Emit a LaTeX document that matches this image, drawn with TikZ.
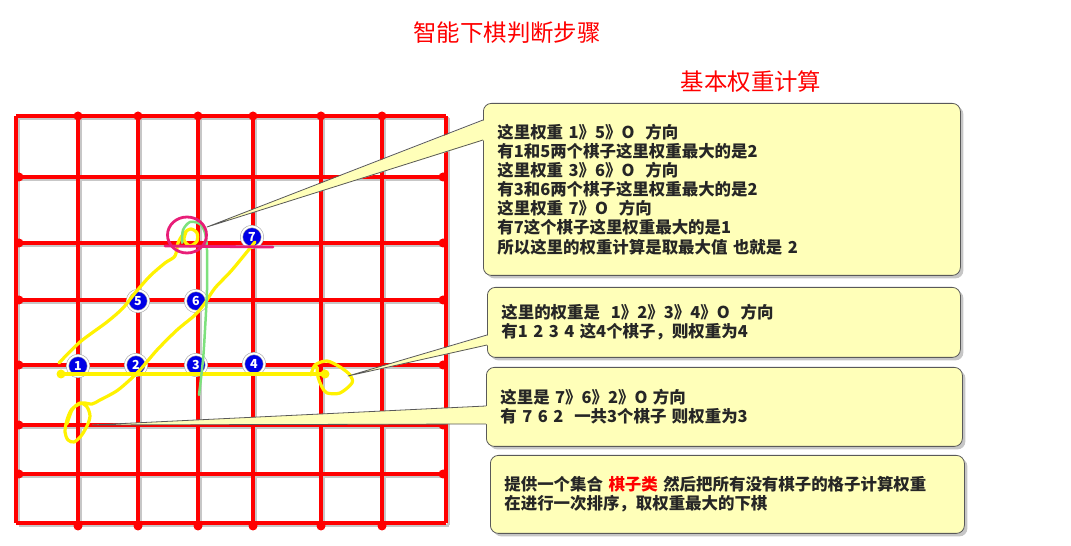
\documentclass[tikz,border=0pt]{standalone}
\usepackage{fontspec}
\setmainfont{Noto Sans CJK SC}
\usetikzlibrary{shadows}
\definecolor{notefill}{RGB}{255,255,185}
\definecolor{penpink}{RGB}{232,30,120}
\definecolor{pengreen}{RGB}{125,225,125}
\definecolor{stoneblue}{RGB}{0,0,230}
\begin{document}
\begin{tikzpicture}[line join=round,
  gridline/.style={red,line width=3.5bp},
  gridshade/.style={black!22,line width=3.5bp},
  stone/.style={circle,fill=stoneblue,draw=gray!70,line width=0.6bp,double=white,double distance=1.8bp,minimum size=21bp,inner sep=0pt,text=white,font=\bfseries\fontsize{12.5}{12.5}\selectfont},
  note/.style={rectangle,rounded corners=8bp,fill=notefill,draw=black!65,line width=0.8bp,drop shadow={shadow xshift=3bp,shadow yshift=-3bp,opacity=0.45},anchor=north west,align=left,inner xsep=14bp,text=black!85,font=\bfseries\fontsize{16.5}{19.2}\selectfont},
  notelink/.style={black!65,line width=0.8bp},
  pen/.style={yellow,line width=3.2bp,line cap=round},
  ]
\useasboundingbox (0bp,0bp) rectangle (1071bp,546bp);
%% board
\begin{scope}[shift={(2.5bp,-2.5bp)}]
  \foreach \gx in {16,78,138,198,253,321,382,446} \draw[gridshade] (\gx bp,23bp) -- (\gx bp,430bp);
  \foreach \gy in {23,72,121,181,246,303,369,430} \draw[gridshade] (16bp,\gy bp) -- (446bp,\gy bp);
\end{scope}
\foreach \gx in {16,78,138,198,253,321,382,446} \draw[gridline] (\gx bp,23bp) -- (\gx bp,430bp);
\foreach \gy in {23,72,121,181,246,303,369,430} \draw[gridline] (16bp,\gy bp) -- (446bp,\gy bp);
\foreach \gx in {78,138,198,253,321,382} {
  \fill[red] (\gx bp,430bp) circle (4.5bp);
  \fill[red] (\gx bp,20bp) circle (4.5bp);
}
\foreach \gy in {72,121,181,246,303,369} {
  \fill[red] (19bp,\gy bp) circle (4.5bp);
  \fill[red] (443bp,\gy bp) circle (4.5bp);
}
%% stones
\node (stone_1) at (78bp,180bp) [stone] {1};
\node (stone_2) at (136bp,181bp) [stone] {2};
\node (stone_3) at (196bp,181bp) [stone] {3};
\node (stone_4) at (254bp,182bp) [stone] {4};
\node (stone_5) at (138bp,245bp) [stone] {5};
\node (stone_6) at (196bp,245bp) [stone] {6};
\node (stone_7) at (252bp,309bp) [stone] {7};
%% marks
\coordinate (row_start) at (61bp,172bp);
\coordinate (row_end) at (325bp,172bp);
\draw[pen] (row_start) -- (row_end);
\fill[yellow] (row_start) circle (4.5bp);
\fill[yellow] (row_end) circle (4.5bp);
\draw[pen] plot[smooth] coordinates {(311bp,171bp) (315bp,181bp) (327bp,185bp) (340bp,179bp) (350bp,171bp) (352bp,163bp) (340bp,153bp) (327bp,153bp) (322bp,159bp) (318bp,169bp) (317bp,179bp)};
\draw[pen] plot[smooth] coordinates {(59bp,183bp) (80bp,204bp) (107bp,224bp) (123bp,238bp) (135bp,253bp) (150bp,270bp) (165bp,283bp) (175bp,290bp) (178bp,303bp) (184bp,313bp) (191bp,317bp) (197bp,313bp) (197bp,305bp) (190bp,300bp) (184bp,306bp) (186bp,314bp)};
\draw[pen] plot[smooth] coordinates {(255bp,304bp) (232bp,276bp) (215bp,258bp) (205bp,243bp) (195bp,231bp) (177bp,216bp) (157bp,196bp) (138bp,174bp) (118bp,156bp) (100bp,146bp) (92bp,142bp) (82bp,143bp) (72bp,137bp) (67bp,126bp) (65bp,114bp) (68bp,106bp) (74bp,104bp) (81bp,110bp) (87bp,120bp) (90bp,130bp) (87bp,139bp) (80bp,143bp) (72bp,136bp) (67bp,122bp)};
\draw[pengreen,line width=2.5bp,line cap=round] plot[smooth] coordinates {(182bp,303bp) (183bp,316bp) (190bp,324bp) (200bp,322bp) (205bp,313bp) (207bp,296bp) (207bp,256bp) (205bp,216bp) (203bp,186bp) (199bp,151bp)};
\draw[penpink,line width=2.8bp] (187bp,311bp) ellipse [x radius=19.5bp,y radius=18bp];
\draw[penpink,line width=2.8bp,line cap=round] (165bp,300bp) -- (273bp,299bp);
%% notes
\node (note_1) at (483bp,443bp) [note,minimum width=477bp,minimum height=172bp,text width=449bp] {这里权重 1》5》O\ \ 方向\\有1和5两个棋子这里权重最大的是2\\这里权重 3》6》O\ \ 方向\\有3和6两个棋子这里权重最大的是2\\这里权重 7》O\ \ 方向\\有7这个棋子这里权重最大的是1\\所以这里的权重计算是取最大值 也就是 2};
\node (note_2) at (487bp,259bp) [note,minimum width=473bp,minimum height=70bp,text width=445bp] {这里的权重是\ \ 1》2》3》4》O\ \ 方向\\有1 2 3 4 这4个棋子，则权重为4};
\node (note_3) at (486bp,179bp) [note,minimum width=476bp,minimum height=79bp,text width=448bp] {这里是 7》6》2》O 方向\\有 7 6 2\ \ 一共3个棋子 则权重为3};
\node (note_4) at (490bp,91bp) [note,minimum width=474bp,minimum height=78bp,text width=446bp] {提供一个集合 \textcolor{red}{棋子类} 然后把所有没有棋子的格子计算权重\\在进行一次排序，取权重最大的下棋};
%
\coordinate (tip_1) at (207bp,319bp);
\coordinate (tip_2) at (348bp,170bp);
\coordinate (tip_3) at (92bp,121bp);
\fill[notefill] ([xshift=2bp,yshift=-17bp]note_1.north west) -- (tip_1) -- ([xshift=2bp,yshift=-37bp]note_1.north west) -- cycle;
\draw[notelink] ([yshift=-17bp]note_1.north west) -- (tip_1) -- ([yshift=-37bp]note_1.north west);
\fill[notefill] ([xshift=2bp,yshift=-48bp]note_2.north west) -- (tip_2) -- ([xshift=2bp,yshift=-58bp]note_2.north west) -- cycle;
\draw[notelink] ([yshift=-48bp]note_2.north west) -- (tip_2) -- ([yshift=-58bp]note_2.north west);
\fill[notefill] ([xshift=2bp,yshift=-39bp]note_3.north west) -- (tip_3) -- ([xshift=2bp,yshift=-57bp]note_3.north west) -- cycle;
\draw[notelink] ([yshift=-39bp]note_3.north west) -- (tip_3) -- ([yshift=-57bp]note_3.north west);
%% titles
\node (title) at (507bp,513bp) [red,font=\fontsize{23.5}{24}\selectfont] {智能下棋判断步骤};
\node (subtitle) at (751bp,464bp) [red,font=\fontsize{23.5}{24}\selectfont] {基本权重计算};
%
\end{tikzpicture}
\end{document}
